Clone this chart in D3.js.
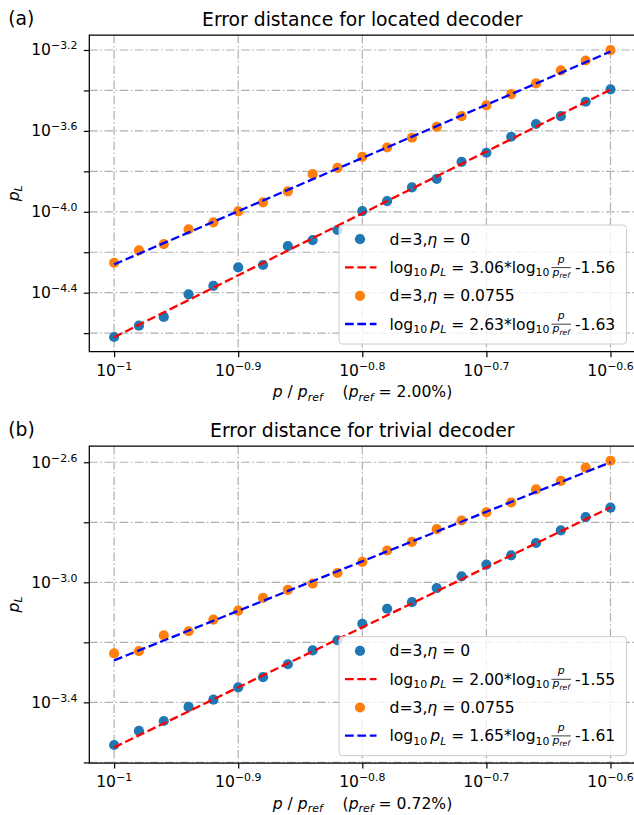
<!DOCTYPE html>
<html><head><meta charset="utf-8">
<script src="https://cdn.jsdelivr.net/npm/d3@7"></script>
<style>
body{margin:0;background:#fff}
svg{display:block}
text{font-family:"DejaVu Sans",sans-serif;fill:#000;white-space:pre}
</style>
</head><body><svg id="c" width="634" height="815"></svg>
<script>
// x positions: log10(p/p_ref)
const xLog = [-1.00,-0.98,-0.96,-0.94,-0.92,-0.90,-0.88,-0.86,-0.84,-0.82,-0.80,-0.78,-0.76,-0.74,-0.72,-0.70,-0.68,-0.66,-0.64,-0.62,-0.60];
// log10 p_L values, panel (a) located decoder
const locatedEta0 = [-4.619,-4.563,-4.520,-4.408,-4.366,-4.275,-4.263,-4.170,-4.140,-4.090,-3.997,-3.947,-3.879,-3.837,-3.753,-3.708,-3.629,-3.566,-3.527,-3.456,-3.395];
const locatedEta  = [-4.252,-4.191,-4.160,-4.087,-4.052,-3.998,-3.953,-3.899,-3.814,-3.783,-3.728,-3.682,-3.634,-3.580,-3.527,-3.474,-3.418,-3.365,-3.301,-3.252,-3.201];
// panel (b) trivial decoder
const trivialEta0 = [-3.542,-3.495,-3.462,-3.415,-3.391,-3.350,-3.316,-3.273,-3.227,-3.193,-3.138,-3.088,-3.066,-3.019,-2.980,-2.941,-2.910,-2.869,-2.827,-2.783,-2.751];
const trivialEta  = [-3.237,-3.229,-3.177,-3.163,-3.124,-3.094,-3.052,-3.025,-3.004,-2.969,-2.932,-2.894,-2.865,-2.823,-2.794,-2.767,-2.734,-2.690,-2.662,-2.618,-2.595];
// fits [slope, intercept]
const locatedFit0 = [3.06, -1.56];
const locatedFit  = [2.63, -1.63];
const trivialFit0 = [2.00, -1.55];
const trivialFit  = [1.65, -1.61];
// ticks
const xTicks = [-1, -0.9, -0.8, -0.7, -0.6];
const xTickLabels = ["\u22121", "\u22120.9", "\u22120.8", "\u22120.7", "\u22120.6"];
const aYTicks = [-4.4, -4.0, -3.6, -3.2];
const aYTickLabels = ["\u22124.4", "\u22124.0", "\u22123.6", "\u22123.2"];
const aYMinor = [-4.6, -4.2, -3.8, -3.4];
const bYTicks = [-3.4, -3.0, -2.6];
const bYTickLabels = ["\u22123.4", "\u22123.0", "\u22122.6"];
const bYMinor = [-3.6, -3.2, -2.8];
const etaLabels = ["0", "0.0755"];

const svg = d3.select("#c");
const BLUE = "#1f77b4", ORANGE = "#ff7f0e";
const R_PT = 5.1;

function rich(parent, x, y, segs, size, anchor) {
  const t = parent.append("text").attr("x", x).attr("y", y)
    .attr("font-size", size).attr("text-anchor", anchor || "start");
  let off = 0;
  segs.forEach(([s, k]) => {
    let target = 0, fs = size, it = false;
    if (k === "sub" || k === "subi") { target = size * 0.22; fs = size * 0.7; }
    if (k === "sup") { target = -size * 0.40; fs = size * 0.7; }
    if (k === "i" || k === "subi") it = true;
    const ts = t.append("tspan").attr("dy", target - off).attr("font-size", fs).text(s);
    if (it) ts.attr("font-style", "italic");
    off = target;
  });
  return t;
}

function fitLabel(g, x, y, fit, size) {
  const pre = [["log","n"],["10","sub"],["\u2009","n"],["p","i"],["L","subi"],[" = " + fit[0].toFixed(2) + "*log","n"],["10","sub"]];
  const t1 = rich(g, x, y, pre, size);
  const w1 = t1.node().getComputedTextLength();
  const fx = x + w1 + 2;
  const fs = size * 0.7;
  const num = rich(g, 0, y - 10.2, [["p","i"]], fs, "middle");
  const den = rich(g, 0, y + 2.8, [["p","i"],["ref","subi"]], fs, "middle");
  const fw = Math.max(num.node().getComputedTextLength(), den.node().getComputedTextLength()) + 2;
  num.attr("x", fx + fw / 2);
  den.attr("x", fx + fw / 2);
  g.append("line").attr("x1", fx).attr("x2", fx + fw).attr("y1", y - 5.4).attr("y2", y - 5.4)
    .attr("stroke", "#000").attr("stroke-width", 0.75);
  rich(g, fx + fw + 4, y, [["-" + Math.abs(fit[1]).toFixed(2), "n"]], size);
}

function panel(cfg) {
  const L = 89.3, R = 635.3;
  const g = svg.append("g");
  const x = d3.scaleLinear().domain([-1.02, -0.58]).range([L, R]);
  const y = d3.scaleLinear().domain(cfg.yDom).range([cfg.bottom, cfg.top]);
  const allY = cfg.yMajor.concat(cfg.yMinor);

  // grid
  const grid = g.append("g");
  grid.selectAll("line.gx").data(xTicks).join("line").attr("class", "gx")
    .attr("x1", d => x(d)).attr("x2", d => x(d)).attr("y1", cfg.top).attr("y2", cfg.bottom);
  grid.selectAll("line.gy").data(allY).join("line").attr("class", "gy")
    .attr("x1", L).attr("x2", R).attr("y1", d => y(d)).attr("y2", d => y(d));
  grid.selectAll("line").attr("stroke", "#b0b0b0").attr("stroke-width", 1.2)
    .attr("stroke-dasharray", "8.5,2.6,1.5,2.6");

  // scatter
  g.append("g").selectAll("circle").data(xLog).join("circle")
    .attr("cx", d => x(d)).attr("cy", (d, i) => y(cfg.s0[i])).attr("r", R_PT).attr("fill", BLUE);
  g.append("g").selectAll("circle").data(xLog).join("circle")
    .attr("cx", d => x(d)).attr("cy", (d, i) => y(cfg.s1[i])).attr("r", R_PT).attr("fill", ORANGE);

  // fit lines
  const ends = [xLog[0], xLog[xLog.length - 1]];
  const line = d3.line().x(d => x(d[0])).y(d => y(d[1]));
  [[cfg.f0, "#ff0000"], [cfg.f1, "#0000ff"]].forEach(([f, col]) => {
    g.append("path").datum(ends.map(v => [v, f[0] * v + f[1]])).attr("d", line)
      .attr("fill", "none").attr("stroke", col).attr("stroke-width", 2.3)
      .attr("stroke-dasharray", "8.7,3.7");
  });

  // axes ticks
  const ax = g.append("g").attr("transform", `translate(0,${cfg.bottom})`)
    .call(d3.axisBottom(x).tickValues(xTicks).tickSize(5.5).tickFormat(""));
  const ay = g.append("g").attr("transform", `translate(${L},0)`)
    .call(d3.axisLeft(y).tickValues(allY).tickSize(5.5).tickFormat(""));
  [ax, ay].forEach(a => {
    a.select(".domain").remove();
    a.selectAll("line").attr("stroke", "#000").attr("stroke-width", 1.2);
  });
  // spines
  g.append("path").attr("d", `M${R},${cfg.top}H${L}V${cfg.bottom}H${R}`)
    .attr("fill", "none").attr("stroke", "#000").attr("stroke-width", 1.25);

  // tick labels
  xTicks.forEach((v, i) => rich(g, x(v), cfg.bottom + 24.2, [["10","n"],[xTickLabels[i],"sup"]], 15.6, "middle"));
  cfg.yMajor.forEach((v, i) => rich(g, 77.5, y(v) + 5.5, [["10","n"],[cfg.yLabels[i],"sup"]], 15.6, "end"));

  // titles
  g.append("text").attr("x", (L + R) / 2).attr("y", cfg.titleY).attr("text-anchor", "middle")
    .attr("font-size", 18.75).text(cfg.title);
  g.append("text").attr("x", 8.3).attr("y", cfg.titleY - 1).attr("font-size", 18.75).text(cfg.tag);

  // axis labels
  rich(g, 0, 0, [["p","i"],["L","subi"]], 15.6, "middle")
    .attr("transform", `translate(19,${(cfg.top + cfg.bottom) / 2}) rotate(-90)`);
  rich(g, 362.5, cfg.bottom + 45.5,
    [["p","i"],[" / ","n"],["p","i"],["ref","subi"],["    (","n"],["p","i"],["ref","subi"],[" = " + cfg.pref + ")","n"]],
    15.6, "middle");

  // legend
  const lg = g.append("g").attr("transform", `translate(339,${cfg.legTop})`);
  lg.append("rect").attr("x", 0).attr("y", 0).attr("width", 287.5).attr("height", 119)
    .attr("rx", 3.5).attr("fill", "#fff").attr("fill-opacity", 0.8)
    .attr("stroke", "#cccccc").attr("stroke-width", 1);
  const rows = [14.2, 42.4, 70.8, 99];
  lg.append("circle").attr("cx", 21).attr("cy", rows[0]).attr("r", R_PT).attr("fill", BLUE);
  lg.append("circle").attr("cx", 21).attr("cy", rows[2]).attr("r", R_PT).attr("fill", ORANGE);
  [[rows[1], "#ff0000"], [rows[3], "#0000ff"]].forEach(([ry, col]) => {
    lg.append("line").attr("x1", 6).attr("x2", 37.5).attr("y1", ry).attr("y2", ry)
      .attr("stroke", col).attr("stroke-width", 2.3).attr("stroke-dasharray", "8.7,3.7");
  });
  rich(lg, 50.5, rows[0] + 5.6, [["d=3,","n"],["\u03b7","i"],[" = " + etaLabels[0],"n"]], 15.6);
  rich(lg, 50.5, rows[2] + 5.6, [["d=3,","n"],["\u03b7","i"],[" = " + etaLabels[1],"n"]], 15.6);
  fitLabel(lg, 50.5, rows[1] + 5.6, cfg.f0, 15.6);
  fitLabel(lg, 50.5, rows[3] + 5.6, cfg.f1, 15.6);
}

panel({
  top: 35, bottom: 351.7, yDom: [-4.6917, -3.1259],
  yMajor: aYTicks, yLabels: aYTickLabels, yMinor: aYMinor,
  s0: locatedEta0, s1: locatedEta, f0: locatedFit0, f1: locatedFit,
  title: "Error distance for located decoder", tag: "(a)", titleY: 26,
  pref: "2.00%", legTop: 225
});
panel({
  top: 446, bottom: 763, yDom: [-3.602, -2.5458],
  yMajor: bYTicks, yLabels: bYTickLabels, yMinor: bYMinor,
  s0: trivialEta0, s1: trivialEta, f0: trivialFit0, f1: trivialFit,
  title: "Error distance for trivial decoder", tag: "(b)", titleY: 437.3,
  pref: "0.72%", legTop: 636.7
});
</script>
</body></html>
